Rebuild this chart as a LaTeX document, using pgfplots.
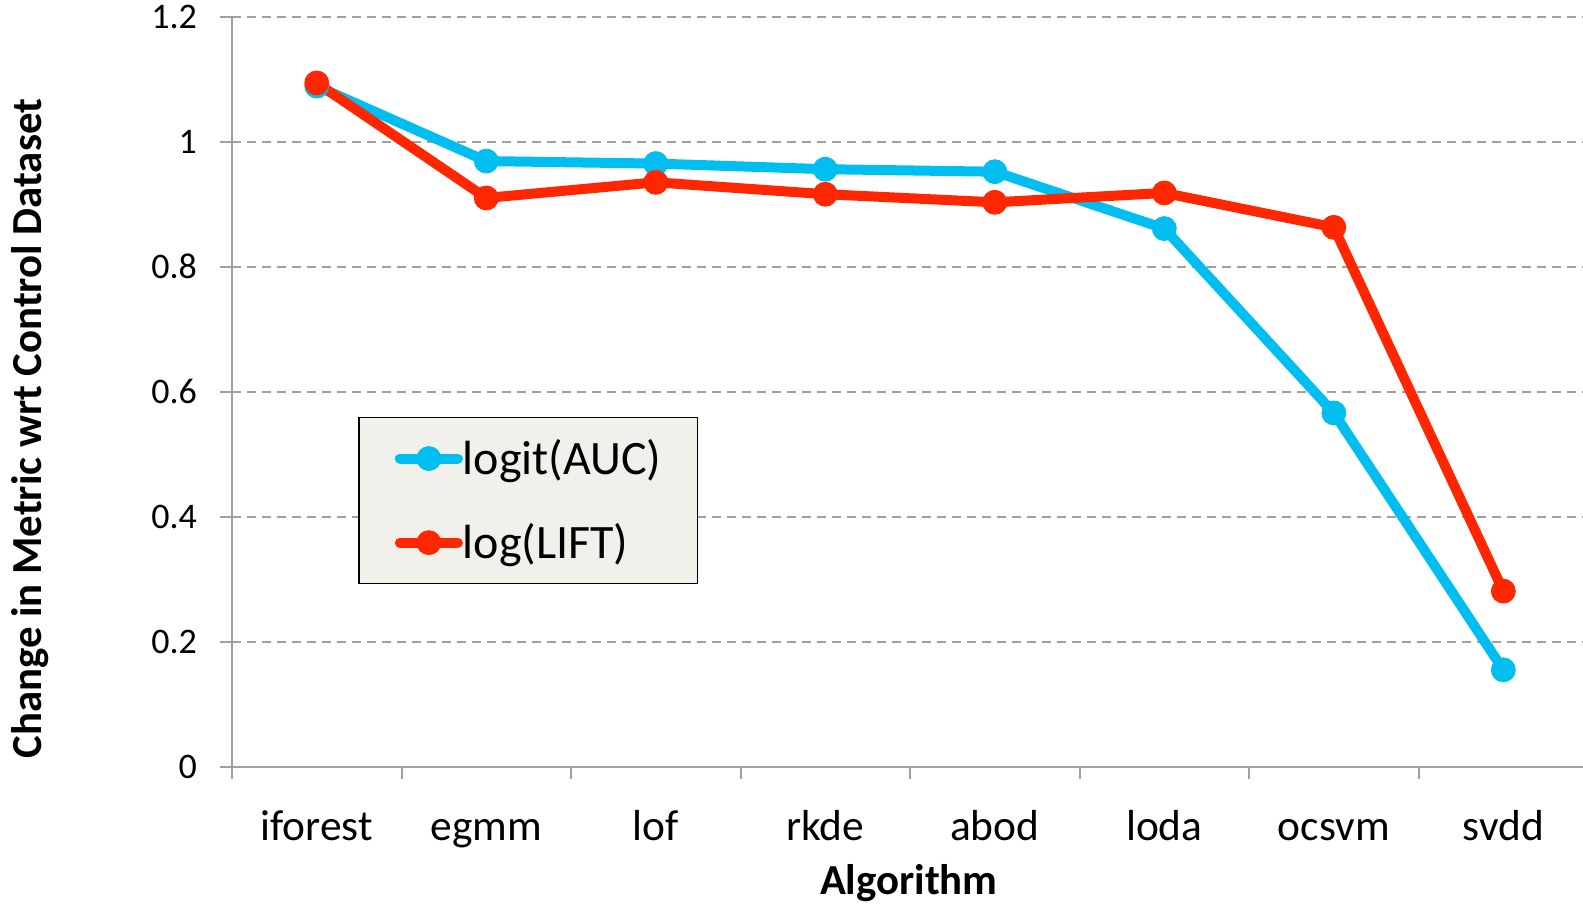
\documentclass[border=0pt]{standalone}
\usepackage{fontspec}
\setmainfont{Carlito}
\usepackage{pgfplots}
\pgfplotsset{compat=1.18}
\definecolor{cblue}{RGB}{0,190,240}
\definecolor{cred}{RGB}{255,38,0}
\definecolor{axgray}{RGB}{160,160,160}
\definecolor{legfill}{RGB}{242,240,234}
\begin{document}
\begin{tikzpicture}
\begin{axis}[
  scale only axis, width=675.5pt, height=375pt,
  xmin=-0.5, xmax=7.47, ymin=0, ymax=1.2,
  axis lines*=left,
  axis line style={axgray, line width=1pt},
  xtick={0,...,7},
  xticklabels={iforest,egmm,lof,rkde,abod,loda,ocsvm,svdd},
  major x tick style={draw=none},
  minor xtick={-0.5,0.5,...,6.5},
  tick align=outside,
  major tick length=6pt, minor tick length=6pt,
  tick style={axgray, line width=1pt},
  ytick={0,0.2,0.4,0.6,0.8,1,1.2},
  yticklabels={0,0.2,0.4,0.6,0.8,1,1.2},
  ymajorgrids,
  grid style={axgray, line width=1pt, dash pattern=on 4.5pt off 3pt},
  xticklabel style={font=\fontsize{21.7}{25}\selectfont, anchor=base, yshift=-31pt},
  yticklabel style={font=\fontsize{18}{21}\selectfont, xshift=-8pt},
  /pgf/number format/assume math mode=true,
  xlabel={Algorithm},
  ylabel={Change in Metric wrt Control Dataset},
  label style={font=\fontsize{21.4}{25}\selectfont\bfseries},
  xlabel style={at={(axis description cs:0.501,-0.171)}, anchor=base},
  ylabel style={at={(axis description cs:-0.1495,0.4507)}, anchor=center},
  legend style={at={(axis description cs:0.0933,0.4667)}, anchor=north west,
    fill=legfill, draw=black, line width=0.8pt,
    font=\fontsize{24}{28}\selectfont,
    inner xsep=18pt, inner ysep=11pt, row sep=23pt,
    nodes={inner sep=0pt}},
  legend cell align=left,
  legend image code/.code={\draw[#1, mark repeat=2, mark phase=2, line cap=round]
     plot coordinates {(0pt,0pt) (14.5pt,0pt) (29pt,0pt)};},
  every axis plot/.append style={line width=5pt, mark=*, mark size=6pt,
     mark options={solid, line width=0.4pt}},
]
\addplot[color=cblue] coordinates {(0,1.089) (1,0.969) (2,0.965) (3,0.956) (4,0.952) (5,0.861) (6,0.566) (7,0.155)};
\addlegendentry{logit(AUC)}
\addplot[color=cred] coordinates {(0,1.094) (1,0.910) (2,0.935) (3,0.916) (4,0.903) (5,0.918) (6,0.863) (7,0.281)};
\addlegendentry{log(LIFT)}
\end{axis}
\pgfresetboundingbox
\path[use as bounding box] (-116pt,-70pt) rectangle (675.5pt,383.35pt);
\end{tikzpicture}
\end{document}
